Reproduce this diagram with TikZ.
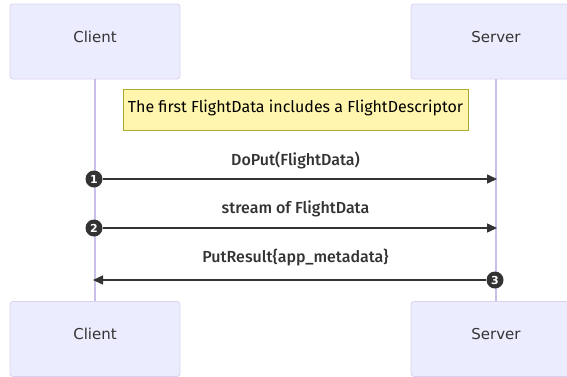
\documentclass[tikz,border=0pt]{standalone}
\usepackage{fontspec}
\setmainfont{DejaVu Sans}
\newfontfamily\msgfont{Fira Sans Medium}
\newfontfamily\notefont{Fira Sans}
\usetikzlibrary{arrows.meta,positioning}
\definecolor{actorbg}{HTML}{ECECFF}
\definecolor{actoredge}{HTML}{D9D0F2}
\definecolor{lifeline}{HTML}{C9BFE8}
\definecolor{notebg}{HTML}{FFF5AD}
\definecolor{noteedge}{HTML}{AAAA33}
\definecolor{ink}{HTML}{333333}
\tikzset{
  actor/.style={draw=actoredge, fill=actorbg, rounded corners=3pt, line width=0.8pt,
    minimum width=170pt, minimum height=75pt, text height=11pt, text depth=10pt,
    text=ink, font=\fontsize{15}{18}\selectfont},
  life/.style={draw=lifeline, line width=1.4pt},
  note/.style={draw=noteedge, fill=notebg, line width=0.8pt, minimum width=345pt,
    minimum height=41pt, text height=11pt, text depth=5pt, text=black,
    font=\notefont\fontsize{16}{19}\selectfont},
  msg/.style={draw=ink, line width=1.5pt, -{Triangle[length=10pt,width=9pt]}},
  msglab/.style={text=ink, font=\msgfont\fontsize{16}{19}\selectfont},
  seqnum/.style={circle, fill=ink, text=white, inner sep=0pt, minimum size=17pt,
    font=\bfseries\fontsize{11}{11}\selectfont},
}

\begin{document}
\begin{tikzpicture}[x=1pt,y=-1pt]
  \useasboundingbox (0,0) rectangle (567,376);
  \def\cx{95}
  \def\sx{496}
  \def\mx{295.5}
  % participants, top and bottom
  \node[actor] (clientTop) at (\cx,41.5) {Client};
  \node[actor] (serverTop) at (\sx,41.5) {Server};
  \node[actor] (clientBot) at (\cx,339) {Client};
  \node[actor] (serverBot) at (\sx,339) {Server};
  \draw[life] (clientTop) -- (clientBot);
  \draw[life] (serverTop) -- (serverBot);
  \node[note] (descNote) at (\mx,109.5) {The first FlightData includes a FlightDescriptor};
  % numbered calls
  \node[seqnum] (n1) at (\cx-1,179) {1};
  \coordinate (s1) at (\sx+1,179);
  \draw[msg] (n1) -- (s1);
  \node[msglab] (m1) at (\mx,160) {DoPut(FlightData)};
  \node[seqnum] (n2) at (\cx-1,228) {2};
  \coordinate (s2) at (\sx+1,228);
  \draw[msg] (n2) -- (s2);
  \node[msglab] (m2) at (\mx,209) {stream of FlightData};
  \node[seqnum] (n3) at (\sx-1,280) {3};
  \coordinate (c3) at (\cx-2,280);
  \draw[msg] (n3) -- (c3);
  \node[msglab] (m3) at (\mx,258) {PutResult\{app\_metadata\}};
\end{tikzpicture}
\end{document}
